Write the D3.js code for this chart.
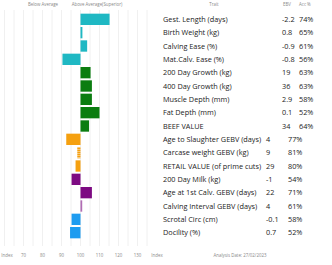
<html>
<head>
    <title>Trait Index Chart</title>
    <script type="text/javascript" src="https://cdnjs.cloudflare.com/ajax/libs/d3/7.8.5/d3.min.js"></script>
    <style>
        body { margin: 0; background: white; }
        text { font-family: "Open Sans", sans-serif; }
    </style>
</head>
<body>
    <div id="chart"></div>
    <script>
        var traits = ["Gest. Length (days)", "Birth Weight (kg)", "Calving Ease (%)", "Mat.Calv. Ease (%)",
                      "200 Day Growth (kg)", "400 Day Growth (kg)", "Muscle Depth (mm)", "Fat Depth (mm)",
                      "BEEF VALUE", "Age to Slaughter GEBV (days)", "Carcase weight GEBV (kg)",
                      "RETAIL VALUE (of prime cuts)", "200 Day Milk (kg)", "Age at 1st Calv. GEBV (days)",
                      "Calving Interval GEBV (days)", "Scrotal Circ (cm)", "Docility (%)"];
        var ebv = ["-2.2", "0.8", "-0.9", "-0.8", "19", "36", "2.9", "0.1", "34", "4", "9", "29", "-1", "22", "4", "-0.1", "0.7"];
        var acc = ["74%", "65%", "61%", "56%", "63%", "63%", "58%", "52%", "64%", "77%", "81%", "80%", "54%", "71%", "61%", "58%", "52%"];
        var index = [115.3, 101, 103.5, 90.5, 105.3, 106, 106, 110, 104.5, 92.5, 98.3, 97.4, 95.3, 106, 100.9, 95.3, 94.5];
        var group = ["calving", "calving", "calving", "calving", "growth", "growth", "growth", "growth", "growth",
                     "carcase", "carcase", "carcase", "maternal", "maternal", "maternal", "other", "other"];
        var ticks = [70, 80, 90, 100, 110, 120, 130];

        var colors = {calving: "#1fb8c3", growth: "#0b7d10", carcase: "#f5a00f", maternal: "#7d0a82", other: "#1e9cf0"};

        var width = 332, height = 265;
        var svg = d3.select("#chart").append("svg")
            .attr("width", width)
            .attr("height", height);

        var defs = svg.append("defs");
        var pat = defs.append("pattern")
            .attr("id", "stripe")
            .attr("patternUnits", "userSpaceOnUse")
            .attr("width", 4).attr("height", 2);
        pat.append("rect").attr("width", 4).attr("height", 2).attr("fill", "#f8c777");
        pat.append("rect").attr("width", 4).attr("height", 1).attr("fill", "#f5a00f");

        var x = d3.scaleLinear().domain([60, 135]).range([4.5, 147]);
        var y = d3.scaleBand().domain(d3.range(traits.length)).range([13, 239]).paddingInner(0.15).paddingOuter(0.05);

        // grid lines
        svg.append("g").selectAll("line")
            .data(d3.range(60, 136, 5))
            .join("line")
            .attr("x1", d => x(d)).attr("x2", d => x(d))
            .attr("y1", 10).attr("y2", 246)
            .attr("stroke", "#ececec")
            .attr("stroke-width", 0.8);

        // header
        svg.append("text").attr("x", 43).attr("y", 6).attr("text-anchor", "middle")
            .attr("font-size", 4.4).attr("fill", "#888").text("Below Average");
        svg.append("text").attr("x", 97).attr("y", 6).attr("text-anchor", "middle")
            .attr("font-size", 4.4).attr("fill", "#888").text("Above Average(Superior)");

        // bars
        svg.append("g").selectAll("rect")
            .data(index)
            .join("rect")
            .attr("x", d => Math.min(x(d), x(100)))
            .attr("y", (d, i) => y(i))
            .attr("width", d => Math.max(Math.abs(x(d) - x(100)), 1.5))
            .attr("height", y.bandwidth())
            .attr("fill", (d, i) => i == 10 ? "url(#stripe)" : colors[group[i]])
            .attr("opacity", (d, i) => i == 14 ? 0.6 : 1);

        // bottom axis labels
        var axis = svg.append("g").attr("font-size", 4.4).attr("fill", "#888");
        axis.selectAll("text.tick")
            .data(ticks)
            .join("text")
            .attr("class", "tick")
            .attr("x", d => x(d)).attr("y", 257)
            .attr("text-anchor", "middle")
            .text(d => d);
        axis.append("text").attr("x", 7).attr("y", 257).attr("text-anchor", "middle").text("Index");
        axis.append("text").attr("x", 157).attr("y", 257).attr("text-anchor", "middle").text("Index");

        // table: upper and lower blocks have their own column positions
        var col_trait = 163;
        var col_ebv = i => i < 9 ? 282 : 266;
        var col_acc = i => i < 9 ? 299 : 288;
        var rowY = i => y(i) + y.bandwidth() / 2 + 2.5;
        var hdr = svg.append("g").attr("font-size", 4.4).attr("fill", "#888");
        hdr.append("text").attr("x", 214).attr("y", 6).attr("text-anchor", "middle").text("Trait");
        hdr.append("text").attr("x", 283).attr("y", 6).text("EBV");
        hdr.append("text").attr("x", 299).attr("y", 6).text("Acc %");

        var rows = svg.append("g").attr("font-size", 7.3).attr("fill", "#222");
        rows.selectAll("text.trait").data(traits).join("text")
            .attr("class", "trait").attr("x", col_trait).attr("y", (d, i) => rowY(i)).text(d => d);
        rows.selectAll("text.ebv").data(ebv).join("text")
            .attr("class", "ebv").attr("x", (d, i) => col_ebv(i)).attr("y", (d, i) => rowY(i)).text(d => d);
        rows.selectAll("text.acc").data(acc).join("text")
            .attr("class", "acc").attr("x", (d, i) => col_acc(i)).attr("y", (d, i) => rowY(i)).text(d => d);

        svg.append("text").attr("x", 240).attr("y", 257).attr("text-anchor", "middle")
            .attr("font-size", 4.4).attr("fill", "#888").text("Analysis Date: 27/02/2023");
    </script>
</body>
</html>
